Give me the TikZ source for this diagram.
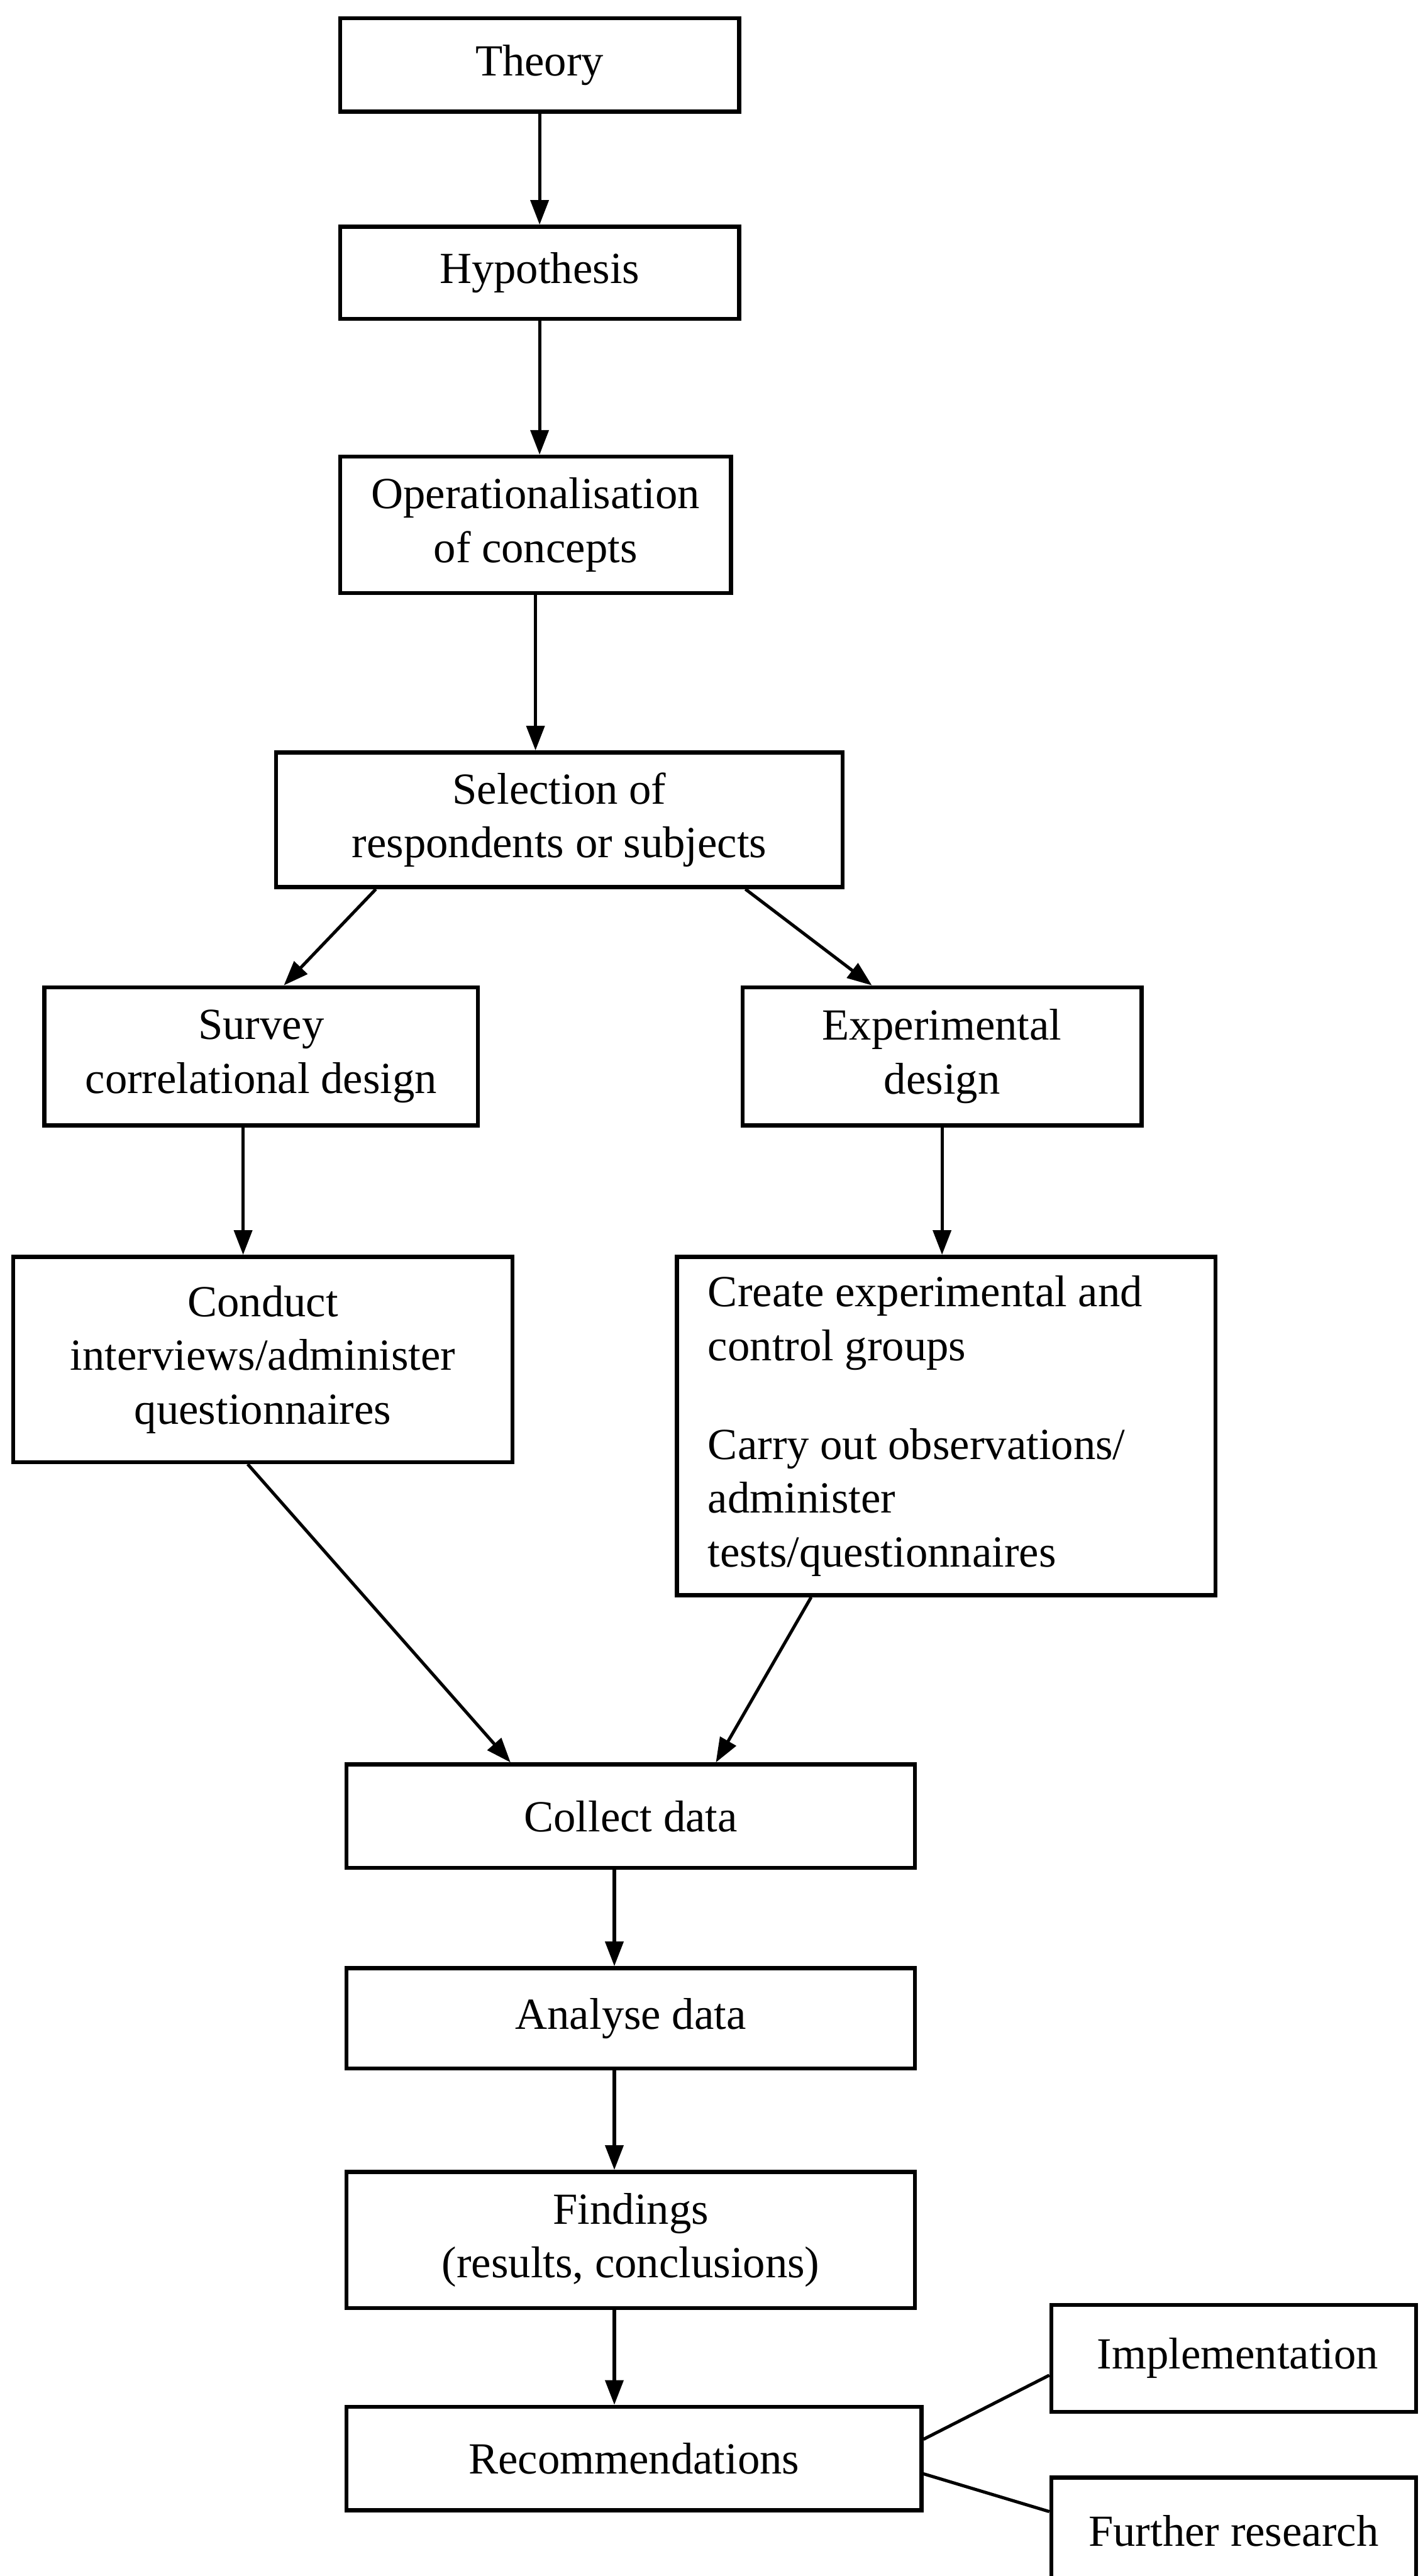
\documentclass[tikz,border=0pt]{standalone}
\usepackage{fontspec}
\setmainfont{Liberation Serif}
\usetikzlibrary{arrows.meta,calc}
\begin{document}
\begin{tikzpicture}[x=0.02cm,y=-0.02cm,
  box/.style={draw=black, line width=1.4pt, inner sep=0pt, align=center,
    font=\fontsize{15.4}{18.6}\selectfont},
  arr/.style={line width=1.1pt, -{Triangle[length=0.3cm,width=0.22cm]}},
  link/.style={line width=1.1pt}]
\useasboundingbox (0,0) rectangle (866,1568);
\fill[white] (0,0) rectangle (866,1568);
\clip (0,0) rectangle (866,1568);

% main chain
\node[box, minimum width=4.86cm, minimum height=1.14cm] (theory) at (328.5,39.5) {Theory};
\node[box, minimum width=4.86cm, minimum height=1.12cm] (hyp) at (328.5,166) {Hypothesis};
\node[box, minimum width=4.76cm, minimum height=1.66cm] (op) at (326,319.5) {Operationalisation\\of concepts};
\node[box, minimum width=6.90cm, minimum height=1.64cm] (sel) at (340.5,499) {Selection of\\respondents or subjects};

% two branches
\node[box, minimum width=5.28cm, minimum height=1.68cm] (survey) at (159,643) {Survey\\correlational design};
\node[box, minimum width=4.86cm, minimum height=1.68cm] (exp) at (573.5,643) {Experimental\\design};
\node[box, minimum width=6.08cm, minimum height=2.50cm] (conduct) at (160,827.5) {Conduct\\interviews/administer\\questionnaires};
\node[box, minimum width=6.56cm, minimum height=4.12cm, text width=5.80cm, inner xsep=0.38cm, align=flush left] (create) at (576,868)
  {Create experimental and\\control groups\\[0.55cm]Carry out observations/\\administer\\tests/questionnaires};

% lower chain
\node[box, minimum width=6.92cm, minimum height=1.26cm] (collect) at (384,1105.5) {Collect data};
\node[box, minimum width=6.92cm, minimum height=1.22cm] (analyse) at (384,1228.5) {Analyse data};
\node[box, minimum width=6.92cm, minimum height=1.66cm] (find) at (384,1363.5) {Findings\\(results, conclusions)};
\node[box, minimum width=7.00cm, minimum height=1.26cm] (rec) at (386,1496.5) {Recommendations};
\node[box, minimum width=4.44cm, minimum height=1.30cm] (impl) at (751,1435.5) {\hspace*{0.1cm}Implementation};
\node[box, minimum width=4.44cm, minimum height=1.30cm] (further) at (751,1540.5) {Further research};

% connectors
\coordinate (sx) at (148,0);
\coordinate (cx) at (374,0);
\draw[arr] (theory.south) -- (theory.south |- hyp.north);
\draw[arr] (hyp.south) -- (hyp.south |- op.north);
\draw[arr] (op.south) -- (op.south |- sel.north);
\draw[arr] ($(sel.south west)+(62,0)$) -- ($(survey.north west)+(147,0)$);
\draw[arr] ($(sel.south west)+(287,0)$) -- ($(exp.north west)+(80,0)$);
\draw[arr] (sx |- survey.south) -- (sx |- conduct.north);
\draw[arr] (exp.south) -- (exp.south |- create.north);
\draw[arr] ($(conduct.south west)+(144,0)$) -- ($(collect.north west)+(101,0)$);
\draw[arr] ($(create.south west)+(83,0)$) -- ($(collect.north west)+(226,0)$);
\draw[arr] (cx |- collect.south) -- (cx |- analyse.north);
\draw[arr] (cx |- analyse.south) -- (cx |- find.north);
\draw[arr] (cx |- find.south) -- (cx |- rec.north);
\draw[link] ($(rec.north east)+(0,21)$) -- ($(impl.north west)+(0,44)$);
\draw[link] ($(rec.north east)+(0,42)$) -- ($(further.north west)+(0,22)$);
\end{tikzpicture}
\end{document}
